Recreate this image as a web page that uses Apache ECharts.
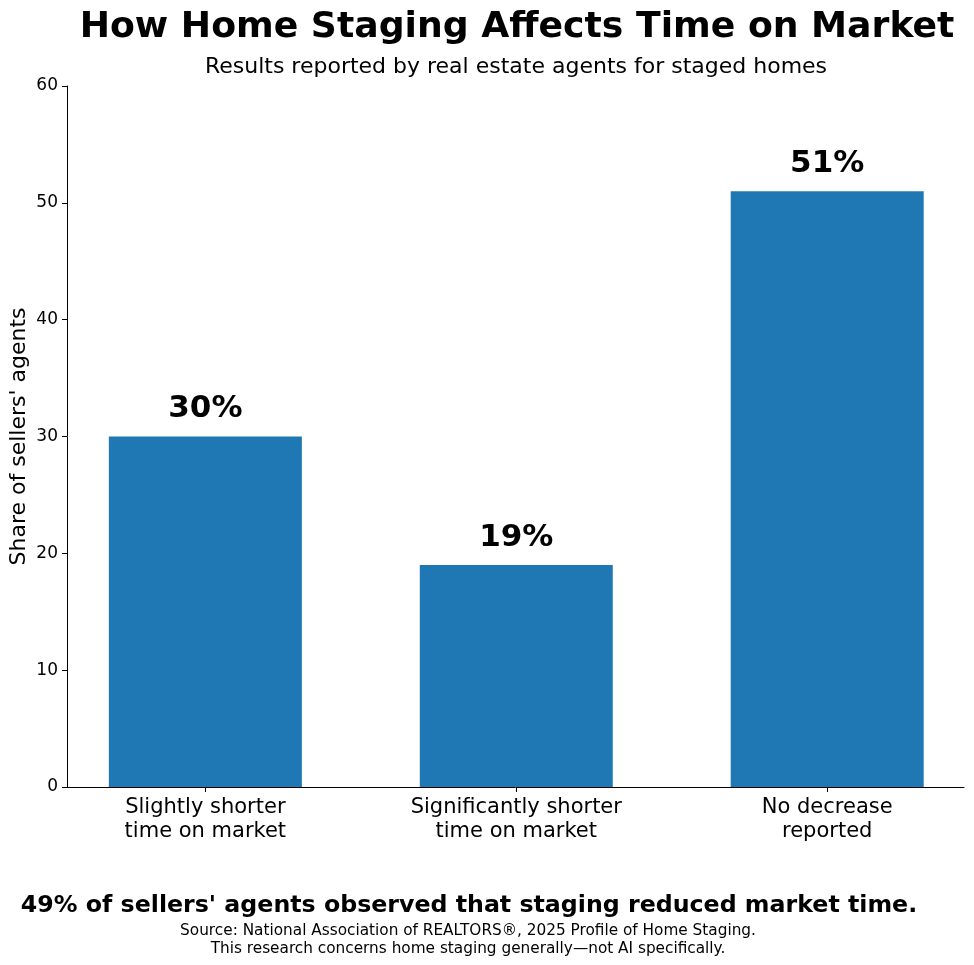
<!DOCTYPE html>
<html>
    <head>
        <meta charset="UTF-8">
        <title>How Home Staging Affects Time on Market</title>
        <script src="https://cdn.jsdelivr.net/npm/echarts@6/dist/echarts.min.js"></script>
    </head>
    <body style="margin:0;">
        <div id="chart" style="width:974px; height:965px;"></div>
        <script>
            // data
            var categories = ['Slightly shorter\ntime on market', 'Significantly shorter\ntime on market', 'No decrease\nreported'];
            var shares = [30, 19, 51];
            var yTicks = { min: 0, max: 60, interval: 10 };

            var font = 'DejaVu Sans';
            var chart = echarts.init(document.getElementById('chart'));

            // bars sit on a value axis so the side padding matches the original
            var barData = shares.map(function (v, i) { return [i, v]; });
            var positions = categories.map(function (c, i) { return i; });

            var option = {
                backgroundColor: '#ffffff',
                textStyle: { fontFamily: font },
                title: [{
                    text: 'How Home Staging Affects Time on Market',
                    left: 512, top: 5, textAlign: 'center',
                    textStyle: { fontSize: 36.2, fontWeight: 'bold', color: '#000', fontFamily: font }
                }, {
                    text: 'Results reported by real estate agents for staged homes',
                    left: 511, top: 51, textAlign: 'center',
                    textStyle: { fontSize: 22, fontWeight: 'normal', color: '#000', fontFamily: font }
                }, {
                    text: "49% of sellers' agents observed that staging reduced market time.",
                    left: 464, top: 889, textAlign: 'center',
                    textStyle: { fontSize: 23.7, fontWeight: 'bold', color: '#000', fontFamily: font }
                }, {
                    text: 'Source: National Association of REALTORS®, 2025 Profile of Home Staging.\nThis research concerns home staging generally\u2014not AI specifically.',
                    left: 463, top: 917, textAlign: 'center',
                    textStyle: { fontSize: 15.3, fontWeight: 'normal', color: '#000', fontFamily: font, lineHeight: 18 }
                }],
                grid: { left: 67, right: 10, top: 86, bottom: 178, containLabel: false, outerBoundsMode: 'none' },
                xAxis: {
                    type: 'value',
                    min: -0.445,
                    max: 2.44,
                    splitLine: { show: false },
                    axisLine: { show: true, onZero: false, lineStyle: { color: '#000', width: 1 } },
                    axisTick: { show: true, customValues: positions, length: 5, lineStyle: { color: '#000' } },
                    axisLabel: {
                        customValues: positions,
                        margin: 9,
                        fontSize: 21,
                        lineHeight: 24,
                        color: '#000',
                        fontFamily: font,
                        formatter: function (v) { return categories[Math.round(v)]; }
                    }
                },
                yAxis: {
                    type: 'value',
                    min: yTicks.min,
                    max: yTicks.max,
                    interval: yTicks.interval,
                    name: "Share of sellers' agents",
                    nameLocation: 'middle',
                    nameGap: 37,
                    nameMoveOverlap: false,
                    nameTextStyle: { fontSize: 22, color: '#000', fontFamily: font },
                    splitLine: { show: false },
                    axisLine: { show: true, onZero: false, lineStyle: { color: '#000', width: 1 } },
                    axisTick: { show: true, length: 5, lineStyle: { color: '#000' } },
                    axisLabel: { fontSize: 17, color: '#000', margin: 9, fontFamily: font }
                },
                series: [{
                    type: 'bar',
                    data: barData,
                    barWidth: 193,
                    itemStyle: { color: '#1f77b4' },
                    label: {
                        show: true,
                        position: 'top',
                        distance: 12,
                        fontSize: 31,
                        fontWeight: 'bold',
                        color: '#000',
                        fontFamily: font,
                        formatter: function (p) { return p.value[1] + '%'; }
                    }
                }]
            };
            chart.setOption(option);
        </script>
    </body>
</html>
